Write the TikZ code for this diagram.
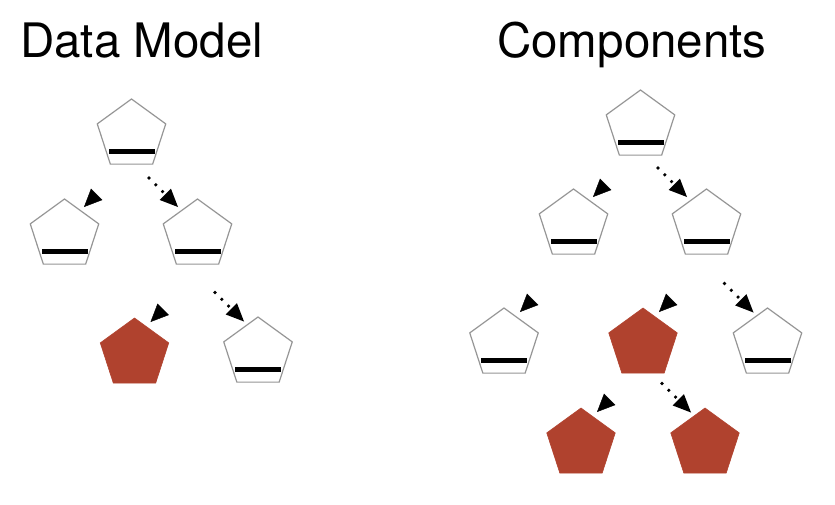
\documentclass[tikz,border=0pt]{standalone}
\usepackage{fontspec}
\setmainfont{TeX Gyre Heros}
\usetikzlibrary{shapes.geometric, arrows.meta, positioning}
\definecolor{brick}{RGB}{176,66,46}
\definecolor{edgegray}{RGB}{150,150,150}

\begin{document}
\begin{tikzpicture}[
    x=1pt, y=-1pt,
    part/.style={draw=edgegray, line width=1.2pt, regular polygon, regular polygon sides=5, minimum size=72pt, inner sep=0pt, fill=white,
        path picture={\fill[black] ([xshift=-23pt,yshift=10pt]path picture bounding box.south) rectangle ([xshift=23pt,yshift=15.5pt]path picture bounding box.south);}},
    dirty/.style={draw=brick, line width=0.6pt, regular polygon, regular polygon sides=5, minimum size=72pt, inner sep=0pt, fill=brick},
    headonly/.style={-{Triangle[length=18pt,width=16pt]}},
    dotlink/.style={line width=3.6pt, line cap=round, dash pattern=on 0pt off 9.6pt, -{Triangle[length=18pt,width=16pt,line width=0pt]}},
    title/.style={font=\fontsize{47.5}{52}\selectfont, anchor=base west, inner sep=0pt}
]
    \useasboundingbox (0,0) rectangle (835,504);

    % ================= DATA MODEL =================
    \node[title] (t1) at (20,57) {Data Model};

    \node[part] (d1) at (131.5,135) {};
    \node[part] (d2) at (64.5,235) {};
    \node[part] (d3) at (197.5,235) {};
    \node[dirty] (d4) at (134.5,354) {};
    \node[part] (d5) at (258,353) {};

    % Connections
    \draw[headonly] ([shift={(32.2,-40.7)}]d2.center) -- ([shift={(19.5,-28)}]d2.center);
    \draw[dotlink] ([shift={(-48.5,-57)}]d3.center) -- ([shift={(-19.5,-28)}]d3.center);
    \draw[headonly] ([shift={(28.7,-44.7)}]d4.center) -- ([shift={(16,-32)}]d4.center);
    \draw[dotlink] ([shift={(-43,-60.5)}]d5.center) -- ([shift={(-14,-31.5)}]d5.center);

    % ================= COMPONENTS =================
    \node[title] (t2) at (497,57) {Components};

    \node[part] (c1) at (640.5,126) {};
    \node[part] (c2) at (573.5,225) {};
    \node[part] (c3) at (706.5,225) {};
    \node[part] (c4) at (504,344) {};
    \node[dirty] (c5) at (643,344) {};
    \node[part] (c6) at (767.5,344) {};
    \node[dirty] (c7) at (581,444) {};
    \node[dirty] (c8) at (705,444) {};

    % Connections
    \draw[headonly] ([shift={(32.2,-40.7)}]c2.center) -- ([shift={(19.5,-28)}]c2.center);
    \draw[dotlink] ([shift={(-48.5,-57)}]c3.center) -- ([shift={(-19.5,-28)}]c3.center);
    \draw[headonly] ([shift={(28.7,-44.7)}]c4.center) -- ([shift={(16,-32)}]c4.center);
    \draw[headonly] ([shift={(28.7,-44.7)}]c5.center) -- ([shift={(16,-32)}]c5.center);
    \draw[dotlink] ([shift={(-43,-60.5)}]c6.center) -- ([shift={(-14,-31.5)}]c6.center);
    \draw[headonly] ([shift={(28.7,-44.7)}]c7.center) -- ([shift={(16,-32)}]c7.center);
    \draw[dotlink] ([shift={(-43,-60.5)}]c8.center) -- ([shift={(-14,-31.5)}]c8.center);

\end{tikzpicture}
\end{document}
